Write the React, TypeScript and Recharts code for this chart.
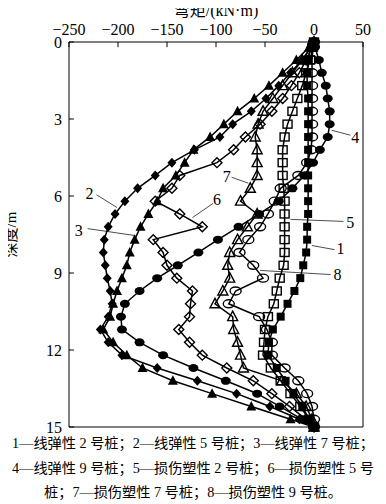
import React from 'react'
import { ScatterChart, Scatter, XAxis, YAxis, ReferenceArea, ReferenceLine, ReferenceDot } from 'recharts'

// depth of each measuring point, m
const depths = [0, 0.2, 0.7, 1.2, 1.7, 2.2, 2.7, 3.2, 3.7, 4.2, 4.7, 5.2, 5.7, 6.2, 6.7, 7.2, 7.7, 8.2, 8.7, 9.2, 9.7, 10.2, 10.7, 11.2, 11.7, 12.2, 12.7, 13.2, 13.7, 14.2, 14.7, 15]

// bending moment, kN·m
const elastic2 = [0, -3, -6, -7, -7, -6, -6, -6, -6, -6, -6, -6, -6, -6, -6, -7, -7, -8, -11, -14, -20, -27, -34, -42, -46, -47, -38, -29, -21, -12, -5, 0]
const elastic5 = [0, -3, -12, -24, -36, -49, -64, -83, -96, -122, -145, -162, -180, -193, -203, -210, -214, -215, -213, -211, -208, -206, -210, -218, -210, -196, -160, -119, -79, -45, -15, 0]
const elastic7 = [0, -5, -18, -32, -46, -61, -78, -92, -106, -123, -132, -141, -154, -160, -169, -177, -183, -188, -191, -196, -201, -205, -208, -215, -205, -191, -175, -144, -104, -64, -24, 0]
const elastic9 = [0, 1, 5, 8, 12, 14, 16, 16, 14, 6, -1, -10, -22, -36, -56, -77, -98, -118, -139, -160, -178, -193, -197, -196, -178, -154, -123, -90, -58, -35, -12, 0]
const damage2 = [0, -1, -4, -8, -12, -17, -22, -27, -30, -32, -32, -32, -31, -30, -30, -30, -30, -30, -31, -35, -38, -41, -47, -50, -51, -52, -44, -34, -24, -14, -5, 0]
const damage5 = [0, -2, -8, -15, -23, -32, -43, -55, -70, -82, -99, -137, -145, -162, -137, -114, -164, -154, -150, -140, -124, -126, -127, -138, -127, -114, -89, -62, -43, -25, -8, 0]
const damage7 = [0, -3, -12, -22, -32, -42, -52, -57, -60, -58, -58, -58, -65, -75, -58, -68, -78, -86, -88, -86, -93, -101, -83, -82, -78, -75, -72, -33, -18, -8, -2, 0]
const damage9 = [0, -1, -2, -2, -2, -2, -2, -2, -2, -3, -7, -16, -34, -40, -47, -55, -67, -76, -62, -52, -80, -87, -56, -48, -43, -43, -30, -16, -7, -2, 0, 0]

const xTicks = [-250, -200, -150, -100, -50, 0, 50]
const yTicks = [0, 3, 6, 9, 12, 15]

// numbered callouts: text position and leader line end
const callouts = [
  { text: '1', x: 27, y: 8.05, lx1: 21, ly1: 8.09, lx2: -2, ly2: 7.93 },
  { text: '2', x: -229, y: 5.9, lx1: -222, ly1: 5.95, lx2: -201, ly2: 6.45 },
  { text: '3', x: -240, y: 7.34, lx1: -231, ly1: 7.27, lx2: -183, ly2: 7.54 },
  { text: '4', x: 42, y: 3.71, lx1: 37, ly1: 3.63, lx2: 18, ly2: 3.44 },
  { text: '5', x: 37, y: 7.03, lx1: 30, ly1: 6.99, lx2: -24, ly2: 6.91 },
  { text: '6', x: -99, y: 6.13, lx1: -103, ly1: 6.29, lx2: -124, ly2: 6.84 },
  { text: '7', x: -89, y: 5.23, lx1: -84, ly1: 5.27, lx2: -67, ly2: 5.5 },
  { text: '8', x: 24, y: 9.06, lx1: 17, ly1: 9.06, lx2: -55, ly2: 8.9 },
]

const serif = "'Liberation Serif', 'Noto Sans CJK SC', serif"

const toPoints = (values: number[]) => depths.map((d, i) => ({ x: values[i], y: d }))

const marker = (kind: string) => (p: any) => {
  const { cx, cy } = p
  if (cx == null || cy == null) return <g />
  const sw = 1.4
  switch (kind) {
    case 'fsquare':
      return <rect x={cx - 4} y={cy - 4} width={8} height={8} fill="#000" />
    case 'osquare':
      return <rect x={cx - 4.5} y={cy - 4} width={9} height={8} fill="none" stroke="#000" strokeWidth={sw} />
    case 'fdiamond':
      return <polygon points={`${cx},${cy - 5} ${cx + 4.5},${cy} ${cx},${cy + 5} ${cx - 4.5},${cy}`} fill="#000" />
    case 'odiamond':
      return <polygon points={`${cx},${cy - 5} ${cx + 5},${cy} ${cx},${cy + 5} ${cx - 5},${cy}`} fill="none" stroke="#000" strokeWidth={sw} />
    case 'ftriangle':
      return <polygon points={`${cx},${cy - 5.5} ${cx + 5},${cy + 4} ${cx - 5},${cy + 4}`} fill="#000" />
    case 'otriangle':
      return <polygon points={`${cx},${cy - 5.5} ${cx + 5},${cy + 4} ${cx - 5},${cy + 4}`} fill="none" stroke="#000" strokeWidth={sw} />
    case 'fellipse':
      return <ellipse cx={cx} cy={cy} rx={5} ry={4} fill="#000" />
    default:
      return <ellipse cx={cx} cy={cy} rx={5.5} ry={4} fill="none" stroke="#000" strokeWidth={sw} />
  }
}

const series = [
  { name: '线弹性2号桩', values: elastic2, kind: 'fsquare' },
  { name: '线弹性5号桩', values: elastic5, kind: 'fdiamond' },
  { name: '线弹性7号桩', values: elastic7, kind: 'ftriangle' },
  { name: '线弹性9号桩', values: elastic9, kind: 'fellipse' },
  { name: '损伤塑性2号桩', values: damage2, kind: 'osquare' },
  { name: '损伤塑性5号桩', values: damage5, kind: 'odiamond' },
  { name: '损伤塑性7号桩', values: damage7, kind: 'otriangle' },
  { name: '损伤塑性9号桩', values: damage9, kind: 'oellipse' },
]

const fmt = (v: number) => String(v).replace('-', '\u2212')

// top axis labels, baseline 7px above the frame
const TopTick = (p: any) => (
  <text x={p.x} y={35} textAnchor="middle" fill="#000" fontSize={16} fontFamily={serif}>
    {fmt(p.payload.value)}
  </text>
)

export default function App() {
  return (
    <div style={{ position: 'relative', width: 386, height: 504, margin: '-8px 0 0 -8px', fontFamily: serif, color: '#000' }}>
      <ScatterChart width={386} height={438} margin={{ top: 22, right: 23, bottom: 11, left: 29 }}>
        <XAxis
          type="number"
          dataKey="x"
          orientation="top"
          domain={[-250, 50]}
          ticks={xTicks}
          height={20}
          axisLine={false}
          tickLine={false}
          tick={<TopTick />}
          interval={0}
        />
        <YAxis
          type="number"
          dataKey="y"
          domain={[0, 15]}
          reversed
          ticks={yTicks}
          width={40}
          axisLine={false}
          tickLine={false}
          tickSize={0}
          tickMargin={7}
          tick={{ fill: '#000', fontSize: 16, fontFamily: serif }}
          interval={0}
        />
        <ReferenceArea x1={-250} x2={50} y1={0} y2={15} fill="none" stroke="#000" strokeWidth={1} />
        {xTicks.map((t) => (
          <ReferenceLine key={'xt' + t} segment={[{ x: t, y: 0 }, { x: t, y: 0.2 }]} stroke="#000" strokeWidth={1} />
        ))}
        {yTicks.map((t) => (
          <ReferenceLine key={'yt' + t} segment={[{ x: -250, y: t }, { x: -245, y: t }]} stroke="#000" strokeWidth={1} />
        ))}
        {series.map((s) => (
          <Scatter
            key={s.name}
            name={s.name}
            data={toPoints(s.values)}
            line={{ stroke: '#000', strokeWidth: 1.5 }}
            lineType="joint"
            shape={marker(s.kind)}
            isAnimationActive={false}
          />
        ))}
        {callouts.map((c) => (
          <ReferenceLine
            key={'l' + c.text}
            segment={[{ x: c.lx1, y: c.ly1 }, { x: c.lx2, y: c.ly2 }]}
            stroke="#000"
            strokeWidth={0.7}
            ifOverflow="visible"
          />
        ))}
        {callouts.map((c) => (
          <ReferenceDot
            key={'t' + c.text}
            x={c.x}
            y={c.y}
            r={0}
            fill="none"
            stroke="none"
            ifOverflow="visible"
            label={{ value: c.text, position: 'center', fill: '#000', fontSize: 16, fontFamily: serif }}
          />
        ))}
        <ReferenceDot
          x={-100}
          y={-1.25}
          r={0}
          fill="none"
          stroke="none"
          ifOverflow="visible"
          label={{ value: '弯矩/(kN·m)', position: 'center', fill: '#000', fontSize: 16, fontFamily: serif }}
        />
        <ReferenceDot
          x={-309}
          y={7.5}
          r={0}
          fill="none"
          stroke="none"
          ifOverflow="visible"
          label={{ value: '深度/m', position: 'center', angle: -90, fill: '#000', fontSize: 15, fontFamily: serif }}
        />
      </ScatterChart>
      <div style={{ position: 'absolute', left: 8, top: 431, width: 370, textAlign: 'center', fontSize: 14.2, lineHeight: '24.5px', whiteSpace: 'nowrap' }}>
        <div>1—线弹性 2 号桩；2—线弹性 5 号桩；3—线弹性 7 号桩；</div>
        <div>4—线弹性 9 号桩；5—损伤塑性 2 号桩；6—损伤塑性 5 号</div>
        <div>桩；7—损伤塑性 7 号桩；8—损伤塑性 9 号桩。</div>
      </div>
    </div>
  )
}
